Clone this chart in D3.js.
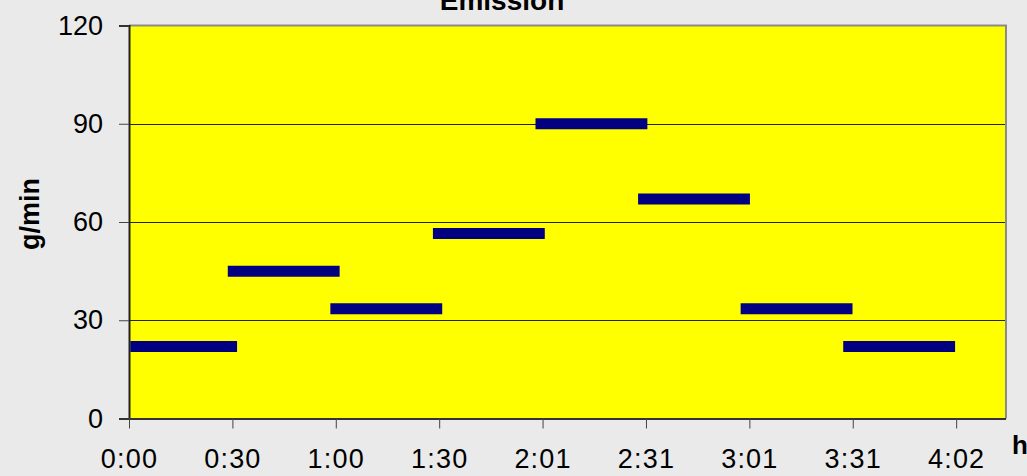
<!DOCTYPE html>
<html>
<head>
<meta charset="utf-8">
<script src="https://cdn.jsdelivr.net/npm/d3@7"></script>
<style>
  html, body { margin: 0; padding: 0; background: #eaeaea; }
  svg { display: block; font-family: "Liberation Sans", Arial, sans-serif; }
</style>
</head>
<body>
<svg id="chart" width="1027" height="476"></svg>
<script>
// Emission rate per period (g/min), start/end of each period in minutes
const periodStart = [2, 30.5, 60.5, 90.5, 120.5, 150.5, 180.5, 210.5];
const periodEnd   = [30, 60, 90, 120, 150, 180, 210, 240];
const emission    = [22, 45, 33.5, 56.5, 90, 67, 33.5, 22];

// Axis ticks: time axis in minutes (major unit 0.021 day), value axis in g/min
const xTickMinutes = [0, 30.24, 60.48, 90.72, 120.96, 151.2, 181.44, 211.68, 241.92];
const xTickLabels  = ["0:00", "0:30", "1:00", "1:30", "2:01", "2:31", "3:01", "3:31", "4:02"];
const yTicks       = [0, 30, 60, 90, 120];

const svg = d3.select("#chart");
const plotLeft = 129, plotRight = 1006, plotTop = 25.5, plotBottom = 418.5;

const x = d3.scaleLinear().domain([0, 256.5]).range([plotLeft, plotRight]);
const y = d3.scaleLinear().domain([0, 120]).range([plotBottom, plotTop]);

// Plot area
svg.append("rect")
  .attr("x", plotLeft).attr("y", plotTop)
  .attr("width", plotRight - plotLeft).attr("height", plotBottom - plotTop)
  .attr("fill", "#ffff00");

// Horizontal gridlines
svg.append("g")
  .selectAll("line")
  .data(yTicks.filter(v => v > 0 && v < 120))
  .join("line")
  .attr("x1", plotLeft).attr("x2", plotRight)
  .attr("y1", d => Math.round(y(d)) + 0.5).attr("y2", d => Math.round(y(d)) + 0.5)
  .attr("stroke", "#222").attr("stroke-width", 1);

// Top and right frame
svg.append("path")
  .attr("d", `M${plotLeft},${plotTop} H${plotRight} V${plotBottom}`)
  .attr("fill", "none").attr("stroke", "#8a8a8a").attr("stroke-width", 2);

// Y axis
const yAxis = d3.axisLeft(y).tickValues(yTicks).tickSize(10).tickPadding(16)
  .tickFormat(d3.format("d"));
const gy = svg.append("g").attr("transform", `translate(${plotLeft},0)`).call(yAxis);
gy.select(".domain").attr("stroke", "#222").attr("stroke-width", 2);
gy.selectAll(".tick line").attr("stroke", "#444");
gy.selectAll(".tick text").attr("font-size", 27).attr("fill", "#000")
  .attr("font-family", "Liberation Sans, Arial, sans-serif");

// X axis
const xAxis = d3.axisBottom(x).tickValues(xTickMinutes).tickSize(10).tickPadding(20)
  .tickFormat((d, i) => xTickLabels[i]);
const gx = svg.append("g").attr("transform", `translate(0,${plotBottom})`).call(xAxis);
gx.select(".domain").attr("d", `M${plotLeft},0.5H${plotRight}`)
  .attr("stroke", "#333").attr("stroke-width", 2);
gx.selectAll(".tick line").attr("stroke", "#444");
gx.selectAll(".tick text").attr("font-size", 27).attr("fill", "#000")
  .attr("letter-spacing", 1.2)
  .attr("font-family", "Liberation Sans, Arial, sans-serif");

// Emission segments
svg.append("g")
  .selectAll("line")
  .data(emission.map((v, i) => ({ v, s: periodStart[i], e: periodEnd[i] })))
  .join("line")
  .attr("x1", d => x(d.s)).attr("x2", d => x(d.e))
  .attr("y1", d => y(d.v)).attr("y2", d => y(d.v))
  .attr("stroke", "#000080").attr("stroke-width", 11)
  .attr("stroke-linecap", "square");

// Title
svg.append("text")
  .attr("x", 502).attr("y", 10)
  .attr("text-anchor", "middle")
  .attr("font-size", 28).attr("font-weight", "bold")
  .text("Emission");

// Axis titles
svg.append("text")
  .attr("transform", "translate(39,214) rotate(-90)")
  .attr("text-anchor", "middle")
  .attr("font-size", 27).attr("font-weight", "bold")
  .text("g/min");

svg.append("text")
  .attr("x", 1012).attr("y", 454)
  .attr("font-size", 26).attr("font-weight", "bold")
  .text("h");
</script>
</body>
</html>
